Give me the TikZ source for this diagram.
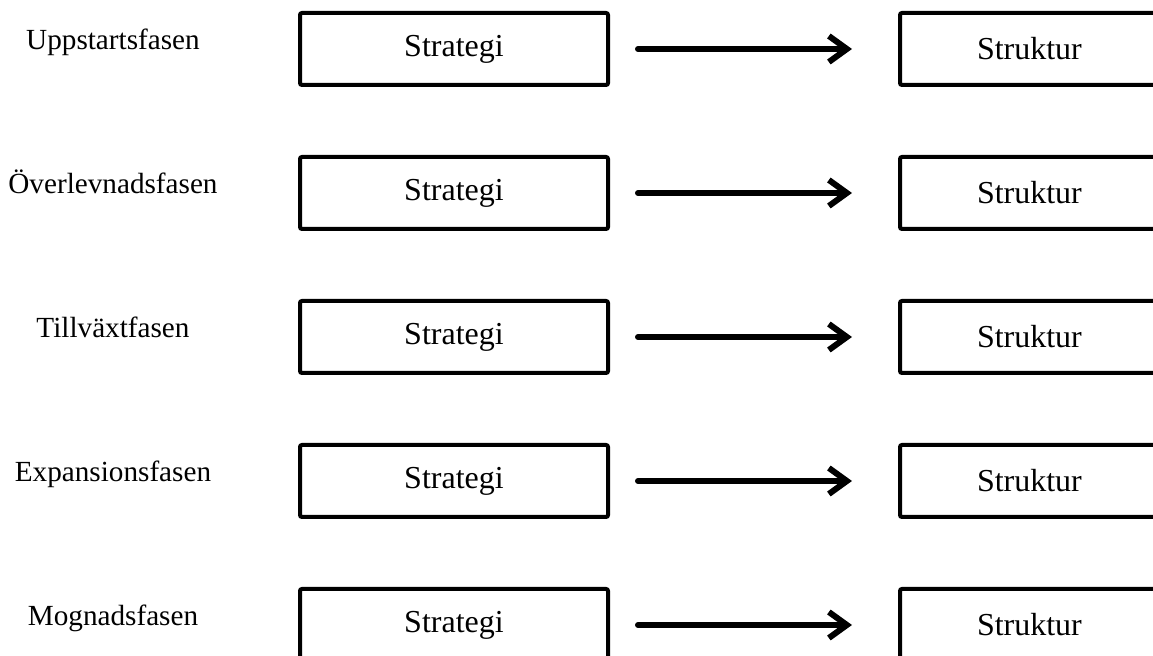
\documentclass[tikz,border=0pt]{standalone}
\usepackage{fontspec}
\setmainfont{Liberation Serif}
\usetikzlibrary{arrows.meta,positioning}
\tikzset{
  box/.style={draw=black, line width=2pt, rounded corners=1pt,
              minimum width=154pt, minimum height=36pt, inner sep=0pt,
              font=\fontsize{16}{19}\selectfont},
  strukb/.style={box, text width=77pt, align=left, inner xsep=38.5pt},
  fas/.style={inner sep=0pt, anchor=base, font=\fontsize{14.6}{17}\selectfont},
  ar/.style={-{Straight Barb[length=9pt,width=13pt]}, line width=3pt,
             line cap=round, shorten <=14pt, shorten >=23pt},
}

\begin{document}
\begin{tikzpicture}[node distance=34pt]
\useasboundingbox (0,0) rectangle (576.5pt,-328pt);
\clip (0,0) rectangle (576.5pt,-328pt);

% ---- STRATEGI ----
\node[box] (s1) at (227pt,-24.5pt) {Strategi};
\node[box, below=of s1] (s2) {Strategi};
\node[box, below=of s2] (s3) {Strategi};
\node[box, below=of s3] (s4) {Strategi};
\node[box, below=of s4] (s5) {Strategi};

% ---- STRUKTUR ----
\node[strukb, right=144pt of s1] (k1) {Struktur};
\node[strukb, right=144pt of s2] (k2) {Struktur};
\node[strukb, right=144pt of s3] (k3) {Struktur};
\node[strukb, right=144pt of s4] (k4) {Struktur};
\node[strukb, right=144pt of s5] (k5) {Struktur};

% ---- FASER ----
\node[fas] (f1) at (56.5pt,-25pt)  {Uppstartsfasen};
\node[fas] (f2) at (56.5pt,-97pt)  {Överlevnadsfasen};
\node[fas] (f3) at (56.5pt,-169pt) {Tillväxtfasen};
\node[fas] (f4) at (56.5pt,-241pt) {Expansionsfasen};
\node[fas] (f5) at (56.5pt,-313pt) {Mognadsfasen};

% ---- edges ----
\draw[ar] (s1) -- (k1);
\draw[ar] (s2) -- (k2);
\draw[ar] (s3) -- (k3);
\draw[ar] (s4) -- (k4);
\draw[ar] (s5) -- (k5);

\end{tikzpicture}
\end{document}
